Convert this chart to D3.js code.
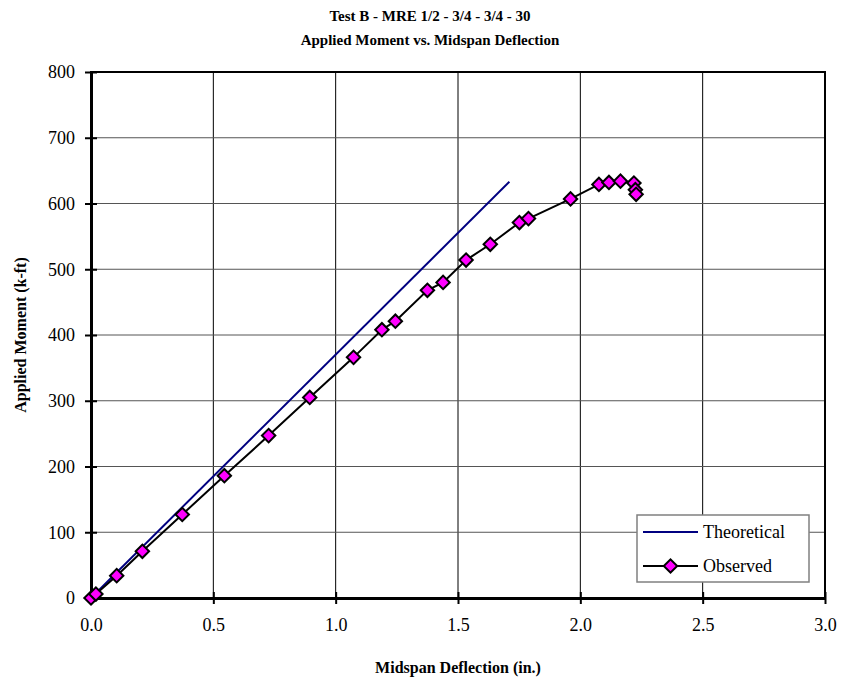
<!DOCTYPE html>
<html>
<head>
<meta charset="utf-8">
<script src="https://cdn.jsdelivr.net/npm/d3@7"></script>
<style>
  body { margin: 0; background: #fff; }
  text { font-family: "Liberation Serif", "Times New Roman", serif; }
</style>
</head>
<body>
<div id="chart"></div>
<script>
// data
var obsDefl = [0.0, 0.02, 0.105, 0.21, 0.373, 0.545, 0.726, 0.894, 1.073, 1.189, 1.244, 1.375, 1.439, 1.533, 1.632, 1.751, 1.788, 1.96, 2.076, 2.117, 2.164, 2.219, 2.225, 2.228];
var obsMoment = [0, 6, 34, 71, 127, 186, 247, 305, 366, 408, 421, 468, 480, 514, 538, 571, 577, 607, 629, 632, 634, 631, 621, 614];
var theoDefl = [0, 1.71];
var theoMoment = [0, 633];
var xTicks = [0, 0.5, 1.0, 1.5, 2.0, 2.5, 3.0];
var yTicks = [0, 100, 200, 300, 400, 500, 600, 700, 800];

var W = 841, H = 683;
var margin = {top: 72, right: 16, bottom: 85, left: 91},
    width = W - margin.left - margin.right,
    height = H - margin.top - margin.bottom;

var svg = d3.select("#chart")
  .append("svg")
    .attr("width", W)
    .attr("height", H);

var g = svg.append("g")
    .attr("transform", "translate(" + margin.left + "," + margin.top + ")");

var x = d3.scaleLinear().domain([0, 3]).range([0, width]);
var y = d3.scaleLinear().domain([0, 800]).range([height, 0]);

// gridlines
g.selectAll(".vgrid")
  .data(xTicks)
  .enter().append("line")
    .attr("x1", function(d) { return x(d); })
    .attr("x2", function(d) { return x(d); })
    .attr("y1", 0).attr("y2", height)
    .attr("stroke", "#000").attr("stroke-width", 1);
g.selectAll(".hgrid")
  .data(yTicks)
  .enter().append("line")
    .attr("y1", function(d) { return y(d); })
    .attr("y2", function(d) { return y(d); })
    .attr("x1", 0).attr("x2", width)
    .attr("stroke", "#555").attr("stroke-width", 1);

// frame
g.append("rect")
  .attr("width", width).attr("height", height)
  .attr("fill", "none").attr("stroke", "#000").attr("stroke-width", 2);

// axes
var xAxis = g.append("g")
  .attr("transform", "translate(0," + height + ")")
  .call(d3.axisBottom(x).tickValues(xTicks).tickFormat(d3.format(".1f")).tickSizeInner(6).tickSizeOuter(0).tickPadding(14));
var yAxis = g.append("g")
  .call(d3.axisLeft(y).tickValues(yTicks).tickSizeInner(6).tickSizeOuter(0).tickPadding(10));

[xAxis, yAxis].forEach(function(a) {
  a.select(".domain").attr("stroke", "#000").attr("stroke-width", 3);
  a.selectAll(".tick line").attr("stroke", "#000").attr("stroke-width", 2);
  a.selectAll("text")
    .attr("fill", "#000")
    .style("font-family", "'Liberation Serif', serif")
    .style("font-size", "18px");
});
// ticks cross the axis
xAxis.selectAll(".tick line").attr("y1", -6);
yAxis.selectAll(".tick line").attr("x1", 6);
xAxis.selectAll(".tick text").attr("dy", "0.71em");

// theoretical line
var theo = theoDefl.map(function(d, i) { return [d, theoMoment[i]]; });
var obs = obsDefl.map(function(d, i) { return [d, obsMoment[i]]; });

var line = d3.line()
  .x(function(d) { return x(d[0]); })
  .y(function(d) { return y(d[1]); });

g.append("path")
  .datum(theo)
  .attr("d", line)
  .attr("fill", "none")
  .attr("stroke", "#000080")
  .attr("stroke-width", 2);

g.append("path")
  .datum(obs)
  .attr("d", line)
  .attr("fill", "none")
  .attr("stroke", "#000")
  .attr("stroke-width", 2);

var diamond = d3.symbol().type(d3.symbolSquare).size(90);
g.selectAll(".pt")
  .data(obs)
  .enter().append("path")
    .attr("d", diamond)
    .attr("transform", function(d) { return "translate(" + x(d[0]) + "," + y(d[1]) + ") rotate(45)"; })
    .attr("fill", "#ff00ff")
    .attr("stroke", "#000")
    .attr("stroke-width", 2);

// titles
svg.append("text")
  .attr("x", 430).attr("y", 21)
  .attr("text-anchor", "middle")
  .style("font-weight", "bold").style("font-size", "15px")
  .text("Test B - MRE 1/2 - 3/4 - 3/4 - 30");
svg.append("text")
  .attr("x", 430).attr("y", 45)
  .attr("text-anchor", "middle")
  .style("font-weight", "bold").style("font-size", "15px")
  .text("Applied Moment vs. Midspan Deflection");

svg.append("text")
  .attr("x", margin.left + width / 2).attr("y", 673)
  .attr("text-anchor", "middle")
  .style("font-weight", "bold").style("font-size", "16px")
  .text("Midspan Deflection (in.)");

svg.append("text")
  .attr("transform", "translate(26," + (margin.top + height / 2) + ") rotate(-90)")
  .attr("text-anchor", "middle")
  .style("font-weight", "bold").style("font-size", "16px")
  .text("Applied Moment (k-ft)");

// legend
var leg = svg.append("g").attr("transform", "translate(637,515)");
leg.append("rect")
  .attr("width", 172).attr("height", 67)
  .attr("fill", "#fff").attr("stroke", "#808080").attr("stroke-width", 1.5);
leg.append("line")
  .attr("x1", 6).attr("x2", 61).attr("y1", 17).attr("y2", 17)
  .attr("stroke", "#000080").attr("stroke-width", 2);
leg.append("text").attr("x", 66).attr("y", 23)
  .style("font-size", "18px").text("Theoretical");
leg.append("line")
  .attr("x1", 6).attr("x2", 61).attr("y1", 51).attr("y2", 51)
  .attr("stroke", "#000").attr("stroke-width", 2);
leg.append("path")
  .attr("d", diamond)
  .attr("transform", "translate(33.5,51) rotate(45)")
  .attr("fill", "#ff00ff").attr("stroke", "#000").attr("stroke-width", 2);
leg.append("text").attr("x", 66).attr("y", 57)
  .style("font-size", "18px").text("Observed");
</script>
</body>
</html>
